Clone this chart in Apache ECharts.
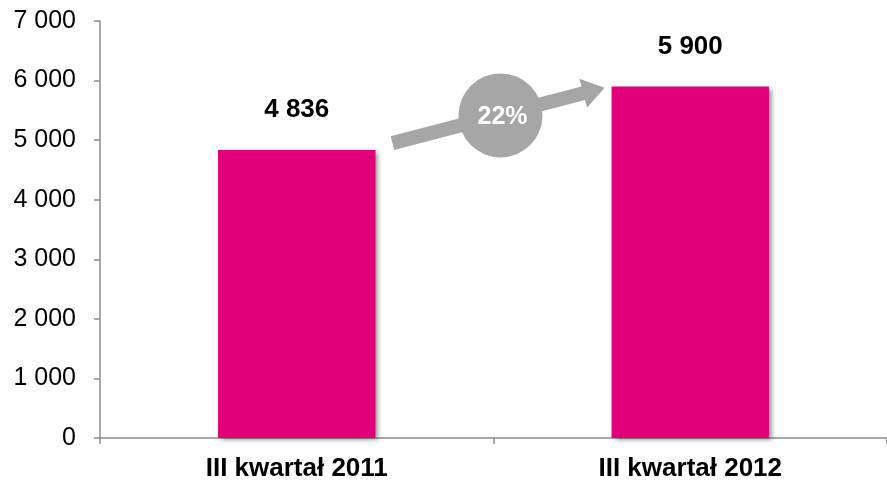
<!DOCTYPE html>
<html>
<head>
<meta charset="utf-8">
<script src="https://cdn.jsdelivr.net/npm/echarts@6/dist/echarts.min.js"></script>
<style>
  html, body { margin: 0; padding: 0; background: #fff; }
  #chart { width: 887px; height: 482px; }
</style>
</head>
<body>
<div id="chart"></div>
<script>
// dane
const categories = ["III kwartał 2011", "III kwartał 2012"];
const values = [4836, 5900];
const growthLabel = "22%";

const fmt = (v) => String(v).replace(/\B(?=(\d{3})+(?!\d))/g, " ");

const chart = echarts.init(document.getElementById("chart"));

const option = {
  animation: false,
  grid: { left: 100, right: 0, top: 21, bottom: 43 },
  xAxis: {
    type: "category",
    data: categories,
    axisLine: { lineStyle: { color: "#8c8c8c", width: 1.5 } },
    axisTick: { show: true, length: 6, lineStyle: { color: "#8c8c8c", width: 1.5 } },
    axisLabel: {
      color: "#000",
      fontFamily: "Liberation Sans",
      fontWeight: "bold",
      fontSize: 26,
      margin: 18,
    },
  },
  yAxis: {
    type: "value",
    min: 0,
    max: 7000,
    interval: 1000,
    splitLine: { show: false },
    axisLine: { show: true, lineStyle: { color: "#8c8c8c", width: 1.5 } },
    axisTick: { show: true, length: 6, lineStyle: { color: "#8c8c8c", width: 1.5 } },
    axisLabel: {
      color: "#000",
      fontFamily: "Liberation Sans",
      fontSize: 25,
      margin: 24,
      formatter: (v) => fmt(v),
    },
  },
  series: [
    {
      type: "bar",
      data: values,
      barWidth: "40%",
      itemStyle: {
        color: "#e2007a",
        shadowColor: "rgba(0,0,0,0.45)",
        shadowBlur: 5,
        shadowOffsetX: 3,
        shadowOffsetY: 2,
      },
      label: {
        show: true,
        position: "top",
        distance: 27,
        color: "#000",
        fontFamily: "Liberation Sans",
        fontWeight: "bold",
        fontSize: 26,
        formatter: (p) => fmt(p.value),
      },
    },
  ],
};

chart.setOption(option);

// strzałka wzrostu z kółkiem – liczona z osi
const p0 = chart.convertToPixel({ seriesIndex: 0 }, [0, 4950]);
const p1 = chart.convertToPixel({ seriesIndex: 0 }, [1, 5880]);
const barW = (p1[0] - p0[0]) * 0.4;
const start = [p0[0] + barW / 2 + 17, p0[1]];
const end = [p1[0] - barW / 2 - 7, p1[1]];

const dx = end[0] - start[0];
const dy = end[1] - start[1];
const len = Math.sqrt(dx * dx + dy * dy);
const ux = dx / len, uy = dy / len;
const nx = -uy, ny = ux;
const bodyHalf = 7, headHalf = 15, headLen = 22;
const hb = [end[0] - ux * headLen, end[1] - uy * headLen];
const pt = (b, s) => [b[0] + nx * s, b[1] + ny * s];
const arrowPoints = [
  pt(start, bodyHalf),
  pt(hb, bodyHalf),
  pt(hb, headHalf),
  end,
  pt(hb, -headHalf),
  pt(hb, -bodyHalf),
  pt(start, -bodyHalf),
];
const mid = [start[0] + dx * 0.5 + 2, start[1] + dy * 0.5];

chart.setOption({
  graphic: [
    {
      type: "polygon",
      shape: { points: arrowPoints },
      style: { fill: "#a6a6a6" },
      z: 10,
    },
    {
      type: "circle",
      shape: { cx: mid[0], cy: mid[1], r: 42 },
      style: { fill: "#a6a6a6" },
      z: 11,
    },
    {
      type: "text",
      x: mid[0] + 2,
      y: mid[1] + 2,
      style: {
        text: growthLabel,
        fill: "#fff",
        font: "bold 25px 'Liberation Sans'",
        align: "center",
        verticalAlign: "middle",
      },
      z: 12,
    },
  ],
});
</script>
</body>
</html>
